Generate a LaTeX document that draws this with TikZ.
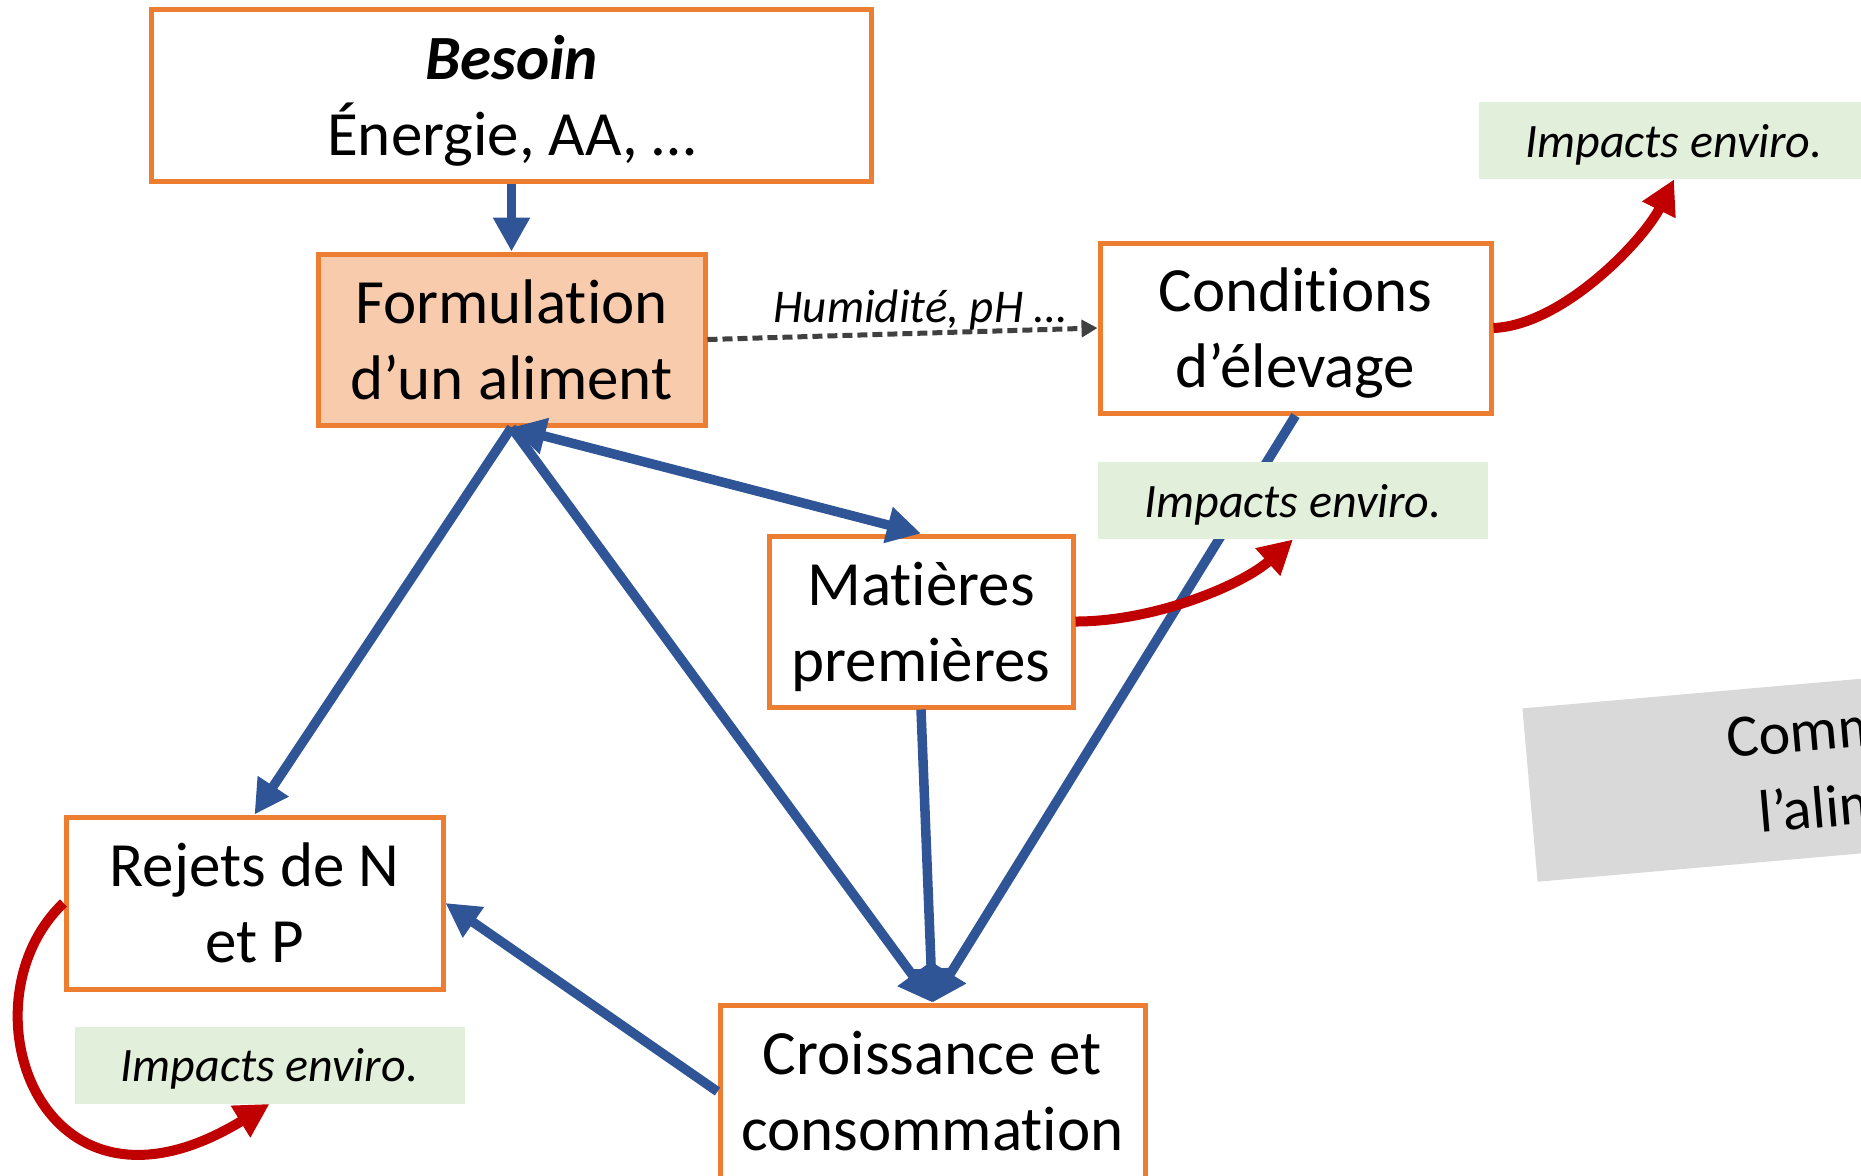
\documentclass[tikz,border=0pt]{standalone}
\usepackage{fontspec}
\setmainfont{Carlito}[Ligatures={NoCommon,NoContextual},Contextuals=NoAlternate]
\usetikzlibrary{arrows.meta}
\definecolor{boxorange}{HTML}{ED7D31}
\definecolor{formfill}{HTML}{F8CBAD}
\definecolor{flowblue}{HTML}{2F5597}
\definecolor{effred}{HTML}{C00000}
\definecolor{impgreen}{HTML}{E2EFDA}
\definecolor{qgray}{HTML}{D9D9D9}
\definecolor{dashgray}{HTML}{404040}
\newcommand{\nodp}[1]{\raisebox{0pt}[\height][0pt]{#1}}
\begin{document}
\begin{tikzpicture}[x=0.5pt,y=-0.5pt,>={Triangle[length=17pt,width=17.5pt]},
  every node/.style={align=center,inner sep=0pt},
  box/.style={draw=boxorange,line width=2.5pt,fill=white,font=\fontsize{31.5}{38}\selectfont},
  impact/.style={fill=impgreen,minimum width=195pt,minimum height=38.5pt,text depth=0pt,font=\fontsize{24}{28}\selectfont\itshape},
  flow/.style={draw=flowblue,line width=4.75pt,->},
  effect/.style={draw=effred,line width=5pt,->}]
\useasboundingbox (0,0) rectangle (1861,1175);
\clip (0,0) rectangle (1861,1175);
\node[box,minimum width=360pt,minimum height=86pt] (besoin) at (511.5,95) {\textbf{\textit{Besoin}}\\\nodp{Énergie, AA, …}};
\node[box,fill=formfill,minimum width=193.5pt,minimum height=85.5pt] (form) at (511.5,339.5) {Formulation\\d’un aliment};
\node[box,minimum width=195.5pt,minimum height=85pt] (cond) at (1295.5,328) {Conditions\\\nodp{d’élevage}};
\node[box,minimum width=152pt,minimum height=85.5pt] (mat) at (921,621.5) {Matières\\\nodp{premières}};
\node[box,minimum width=188.5pt,minimum height=86pt] (rej) at (254.5,903) {Rejets de N\\et P};
\node[box,minimum width=212.5pt,minimum height=86.5pt] (crois) at (932.5,1091.5) {Croissance et\\consommation};
% question box, cut by the right edge
\node[fill=qgray,rotate=5,anchor=north west,minimum width=250pt,minimum height=87pt] (quest) at (1522,708) {};
\node[rotate=5,anchor=base west,font=\fontsize{30}{36}\selectfont] (q1) at (1728,758) {Comm};
\node[rotate=5,anchor=base west,font=\fontsize{30}{36}\selectfont] (q2) at (1760,833) {l’alim};
\draw[flow] (besoin) -- (form);
\draw[flow] (form.south) -- (rej.north);
\draw[flow] (form.south) -- (crois.north);
\draw[flow,<->] (form.south) -- (mat.north);
\draw[flow] (mat.south) -- (crois.north);
\draw[flow] (cond.south) -- (crois.north);
\draw[flow] (crois.west) -- (rej.east);
\draw[dashgray,line width=2.5pt,dash pattern=on 5pt off 2.5pt,-{Triangle[length=8pt,width=8.5pt]}] (form.east) -- node[pos=0.545,anchor=base,yshift=5.5pt,font=\fontsize{23.5}{28}\selectfont\itshape,text=black] (hum) {Humidité, pH …} (cond.west);
\node[impact] (imp1) at (1674,140.5) {Impacts enviro.};
\node[impact] (imp2) at (1293,500.5) {Impacts enviro.};
\node[impact] (imp3) at (269.5,1065) {Impacts enviro.};
\draw[effect] (cond.east) .. controls +(70,-3) and +(-30,60) .. (imp1.south);
\draw[effect] (mat.east) .. controls +(80,0) and +(-50,45) .. (imp2.south);
\draw[effect] (rej.west) .. controls +(-105,100) and +(-229,140) .. (imp3.south);
\end{tikzpicture}
\end{document}
